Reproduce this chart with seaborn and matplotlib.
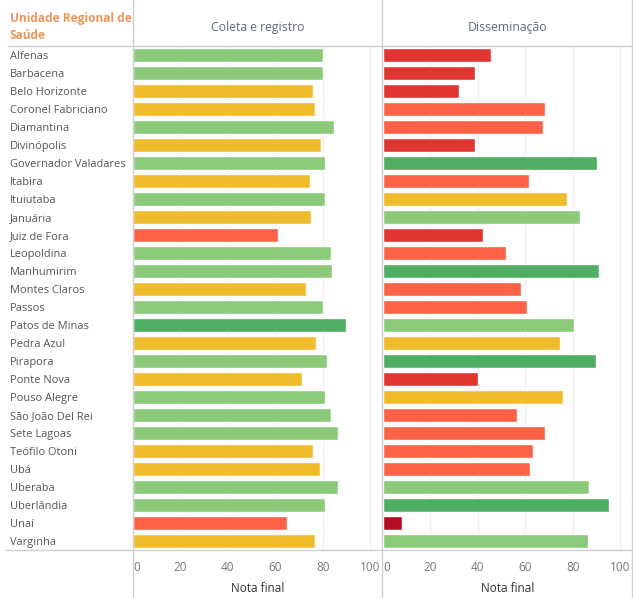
import matplotlib
matplotlib.use('Agg')
import matplotlib.pyplot as plt
import seaborn as sns
import pandas as pd
import numpy as np

# Data
regionais = ['Alfenas', 'Barbacena', 'Belo Horizonte', 'Coronel Fabriciano', 'Diamantina',
             'Divinópolis', 'Governador Valadares', 'Itabira', 'Ituiutaba', 'Januária',
             'Juiz de Fora', 'Leopoldina', 'Manhumirim', 'Montes Claros', 'Passos',
             'Patos de Minas', 'Pedra Azul', 'Pirapora', 'Ponte Nova', 'Pouso Alegre',
             'São João Del Rei', 'Sete Lagoas', 'Teófilo Otoni', 'Ubá', 'Uberaba',
             'Uberlândia', 'Unaí', 'Varginha']
coleta = [80.0, 80.2, 76.0, 76.7, 84.7, 79.1, 80.9, 74.5, 80.9, 74.9,
          61.0, 83.5, 84.0, 73.1, 80.0, 89.7, 77.3, 81.7, 71.3, 81.0,
          83.5, 86.3, 76.0, 78.7, 86.3, 81.0, 64.9, 76.8]
disseminacao = [45.7, 38.7, 32.2, 68.4, 67.4, 39.0, 90.3, 61.7, 77.6, 83.2,
                42.1, 51.9, 91.2, 58.3, 60.8, 80.6, 74.8, 89.7, 40.1, 75.7,
                56.4, 68.4, 63.1, 62.0, 87.0, 95.2, 8.1, 86.6]
paineis = ['Coleta e registro', 'Disseminação']
ticks = [0, 20, 40, 60, 80, 100]

# Colour bands used by the dashboard
faixas = ['muito baixo', 'baixo', 'medio', 'regular', 'bom', 'otimo']
limites = [0, 20, 50, 70, 80, 89, 101]
cores = {'muito baixo': '#B50E23', 'baixo': '#E03531', 'medio': '#FD6246',
         'regular': '#F1BC2B', 'bom': '#8CCB7A', 'otimo': '#4FAE62'}

df = pd.concat([
    pd.DataFrame({'regional': regionais, 'nota': coleta, 'painel': paineis[0]}),
    pd.DataFrame({'regional': regionais, 'nota': disseminacao, 'painel': paineis[1]}),
])
df['faixa'] = pd.cut(df['nota'], bins=limites, labels=faixas, right=False).astype(str)

sns.set_style('white')
plt.rcParams['font.family'] = ['Open Sans', 'DejaVu Sans']

W, H = 633, 598
fig = plt.figure(figsize=(W / 100, H / 100), dpi=100)

line_c = '#CFCFCF'
grid_c = '#EFEFEF'
text_c = '#555555'

x_left = [133, 383]
pw = 249
top, bottom = 46, 550

axes = []
for i, painel in enumerate(paineis):
    ax = fig.add_axes([x_left[i] / W, 1 - bottom / H, pw / W, (bottom - top) / H])
    sub = df[df['painel'] == painel]
    sns.barplot(data=sub, y='regional', x='nota', hue='faixa', palette=cores,
                dodge=False, width=0.74, legend=False, ax=ax, order=regionais,
                saturation=1)
    ax.set_xlim(0, 105)
    ax.set_ylim(len(regionais) - 0.5, -0.5)
    ax.set_xticks(ticks)
    ax.set_xticklabels([str(t) for t in ticks])
    ax.xaxis.grid(True, color=grid_c, linewidth=1)
    ax.set_axisbelow(True)
    for s in ax.spines.values():
        s.set_visible(False)
    ax.tick_params(axis='x', length=0, pad=8, labelsize=8.5, labelcolor='#777777')
    ax.get_xticklabels()[0].set_ha('left')
    ax.set_xlabel('Nota final', fontsize=8.5, color='#333333', labelpad=6)
    ax.set_ylabel('')
    if i == 0:
        ax.tick_params(axis='y', length=0, pad=(133 - 10) * 0.72, labelsize=7.9,
                       labelcolor=text_c)
        for lab in ax.get_yticklabels():
            lab.set_ha('left')
    else:
        ax.set_yticks([])
    axes.append(ax)
    fig.text((x_left[i] + pw / 2) / W, 1 - 27 / H, painel, ha='center', va='center',
             fontsize=8.8, color='#5D6D82')

# frame lines of the table
for x in [133, 382, 632]:
    fig.add_artist(plt.Line2D([x / W, x / W], [0, 1], color=line_c, linewidth=1))
for y, x0 in [(46, 8), (550, 5)]:
    fig.add_artist(plt.Line2D([x0 / W, 1], [1 - y / H, 1 - y / H], color=line_c, linewidth=1))

fig.text(10 / W, 1 - 27 / H, 'Unidade Regional de\nSaúde', ha='left', va='center',
         fontsize=8.6, fontweight='bold', color='#F0955A', linespacing=1.35)

fig.savefig('out.png', dpi=100)
